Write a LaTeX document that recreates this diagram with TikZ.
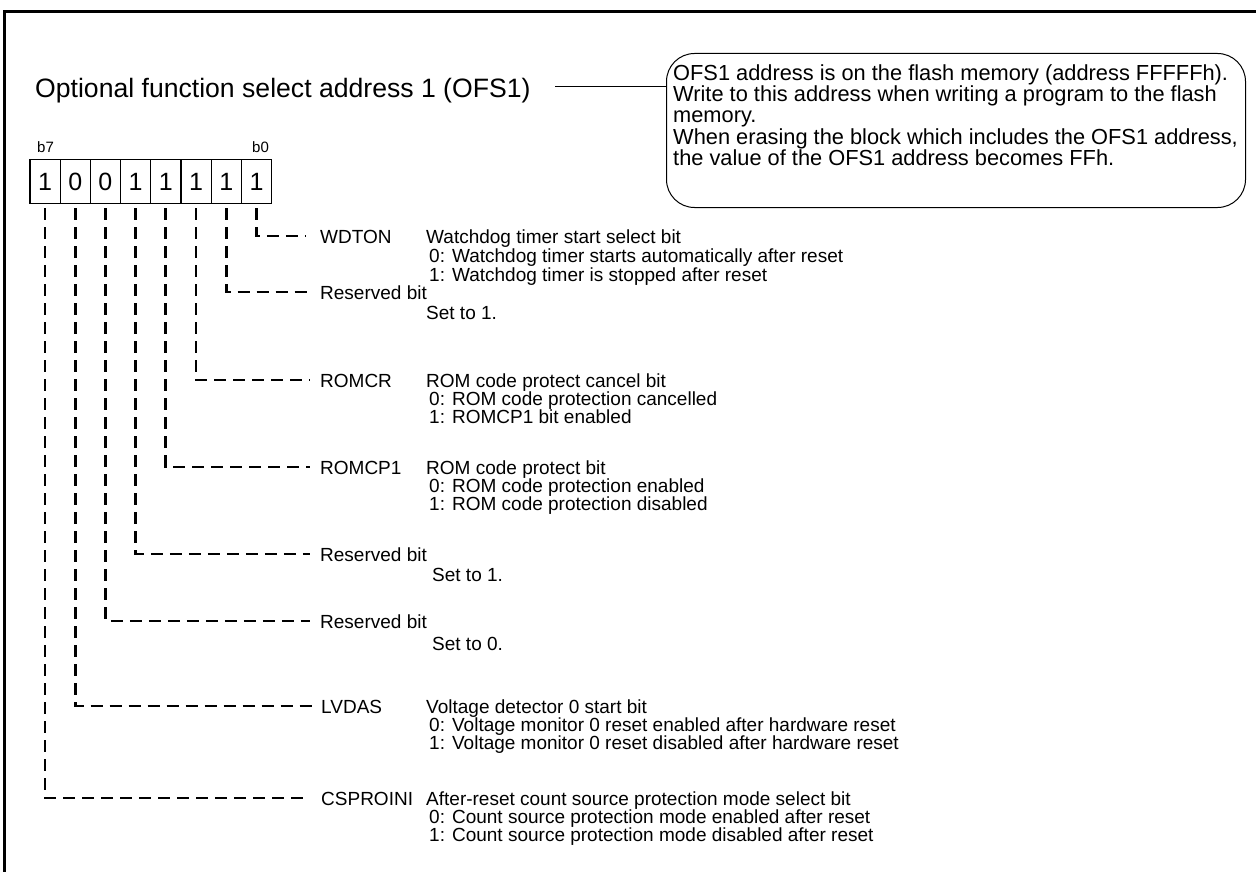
\documentclass[tikz,border=0pt]{standalone}
\usepackage{fontspec}
\setmainfont{Liberation Sans}
\begin{document}
\begin{tikzpicture}[x=1pt,y=-1pt,
  txt/.style={anchor=base west, inner sep=0pt, font=\fontsize{19}{19}\selectfont},
  note/.style={anchor=base west, inner sep=0pt, font=\fontsize{21.8}{22}\selectfont},
  cell/.style={draw, line width=1.3pt, minimum width=30.2pt, minimum height=44pt, inner sep=0pt, anchor=north west, font=\fontsize{25}{25}\selectfont},
  lead/.style={line width=2.8pt, dash pattern=on 12pt off 7pt},
  bitlbl/.style={anchor=base west, inner sep=0pt, font=\fontsize{15}{15}\selectfont}]
\useasboundingbox (0,0) rectangle (1256,872);
% frame
\draw[line width=3pt] (4.5,872) |- (1256,11.5);
% title and callout
\node[anchor=base west, inner sep=0pt, font=\fontsize{26.6}{27}\selectfont] (title) at (35,98) {Optional function select address 1 (OFS1)};
\node[draw, line width=1pt, rounded corners=28pt, minimum width=579pt, minimum height=154pt, anchor=north west] (callout) at (666,53) {};
\coordinate (tl) at (555,87);
\draw[line width=1pt] (tl) -- (callout.west |- tl);
\node[note] (nt1) at (673,81) {OFS1 address is on the flash memory (address FFFFFh).};
\node[note] (nt2) at (673,102) {Write to this address when writing a program to the flash};
\node[note] (nt3) at (673,123) {memory.};
\node[note] (nt4) at (673,144.5) {When erasing the block which includes the OFS1 address,};
\node[note] (nt5) at (673,165.5) {the value of the OFS1 address becomes FFh.};
% bit labels
\node[bitlbl] (b7) at (37,153) {b7};
\node[bitlbl] (b0) at (252,153) {b0};
% register cells
\node[cell] (c7) at (29.3,159) {1};
\node[cell] (c6) at (59.5,159) {0};
\node[cell] (c5) at (89.7,159) {0};
\node[cell] (c4) at (119.9,159) {1};
\node[cell] (c3) at (150.1,159) {1};
\node[cell] (c2) at (180.3,159) {1};
\node[cell] (c1) at (210.5,159) {1};
\node[cell] (c0) at (240.7,159) {1};
% field names
\node[txt] (n0) at (320,243) {WDTON};
\node[txt] (n1) at (320,299) {Reserved bit};
\node[txt] (n2) at (320,387) {ROMCR};
\node[txt] (n3) at (320,474) {ROMCP1};
\node[txt] (n4) at (320,561) {Reserved bit};
\node[txt] (n5) at (320,628) {Reserved bit};
\node[txt] (n6) at (321,713) {LVDAS};
\node[txt] (n7) at (321,805) {CSPROINI};
% leader end points
\coordinate (e0) at (306,236);
\coordinate (e1) at (310,292);
\coordinate (e2) at (310,380);
\coordinate (e3) at (310,467);
\coordinate (e4) at (310,554);
\coordinate (e5) at (310,621);
\coordinate (e6) at (312,706);
\coordinate (e7) at (310,798);
\foreach \i in {0,...,7}{
  \draw[lead] ([yshift=-4pt]c\i.south) |- (e\i);
}
% descriptions
\node[txt] (d0a) at (426,243) {Watchdog timer start select bit};
\node[txt] (d0b) at (429,262) {0: Watchdog timer starts automatically after reset};
\node[txt] (d0c) at (429,281) {1: Watchdog timer is stopped after reset};
\node[txt] (d1a) at (426,319) {Set to 1.};
\node[txt] (d2a) at (426,387) {ROM code protect cancel bit};
\node[txt] (d2b) at (429,405) {0: ROM code protection cancelled};
\node[txt] (d2c) at (429,423) {1: ROMCP1 bit enabled};
\node[txt] (d3a) at (426,474) {ROM code protect bit};
\node[txt] (d3b) at (429,492) {0: ROM code protection enabled};
\node[txt] (d3c) at (429,510) {1: ROM code protection disabled};
\node[txt] (d4a) at (432,581) {Set to 1.};
\node[txt] (d5a) at (432,650) {Set to 0.};
\node[txt] (d6a) at (426,713) {Voltage detector 0 start bit};
\node[txt] (d6b) at (429,731) {0: Voltage monitor 0 reset enabled after hardware reset};
\node[txt] (d6c) at (429,749) {1: Voltage monitor 0 reset disabled after hardware reset};
\node[txt] (d7a) at (426,805) {After-reset count source protection mode select bit};
\node[txt] (d7b) at (429,823) {0: Count source protection mode enabled after reset};
\node[txt] (d7c) at (429,841) {1: Count source protection mode disabled after reset};
\end{tikzpicture}
\end{document}
